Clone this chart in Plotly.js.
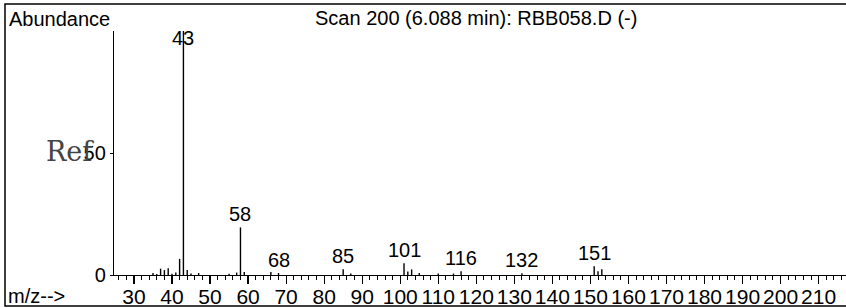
<!DOCTYPE html>
<html><head><meta charset="utf-8">
<script src="https://cdn.plot.ly/plotly-3.0.1.min.js"></script>
<style>html,body{margin:0;padding:0;background:#fff;}#chart{width:846px;height:308px;}</style>
</head><body><div id="chart"></div>
<script>
// Mass spectrum peaks (m/z, relative abundance %)
const mz        = [35, 36, 37, 38, 39, 40, 41, 42, 43, 44, 45, 47, 55, 57, 58, 59, 66, 68, 85, 87, 101, 102, 103, 105, 110, 114, 116, 132, 151, 152, 153];
const abundance = [0.8, 0.4, 2.6, 2.0, 2.8, 0.5, 1.0, 6.6, 100, 2.0, 0.6, 0.8, 0.5, 1.0, 19.5, 1.2, 1.2, 0.8, 2.4, 0.6, 4.8, 1.4, 2.3, 0.8, 0.6, 0.6, 1.5, 0.7, 3.6, 1.5, 2.4];
const labeledMz = [43, 58, 68, 85, 101, 116, 132, 151];
const yTickVals = [0, 50];
const yTickText = ['0', '50'];
const titleLeft = 'Abundance';
const titleMain = 'Scan 200 (6.088 min): RBB058.D (-)';
const xLabel = 'm/z-->';
const refText = 'Ref';

// plot area geometry (pixels)
const L = 114, T = 31, W = 732, H = 244;
const px = x => (x - L) / W;
const py = y => (T + H - y) / H;

const lx = [], ly = [];
mz.forEach((m, i) => { lx.push(m, m, null); ly.push(0, abundance[i], null); });

const sans = 'Liberation Sans, Arial, sans-serif';
const annotations = labeledMz.map(m => {
  const v = abundance[mz.indexOf(m)];
  const top = v >= 95;
  return {
    x: m, y: v, xref: 'x', yref: 'y', text: String(m), showarrow: false,
    xanchor: 'center', yanchor: top ? 'top' : 'bottom', yshift: top ? 6 : 0,
    font: {family: sans, size: 20, color: '#000'}
  };
});
annotations.push(
  {xref: 'paper', yref: 'paper', x: px(7), y: py(19), xanchor: 'left', yanchor: 'middle',
   text: titleLeft, showarrow: false, font: {family: sans, size: 20, color: '#000'}},
  {xref: 'paper', yref: 'paper', x: px(476), y: py(18), xanchor: 'center', yanchor: 'middle',
   text: titleMain, showarrow: false, font: {family: sans, size: 20, color: '#000'}},
  {xref: 'paper', yref: 'paper', x: px(6), y: py(296), xanchor: 'left', yanchor: 'middle',
   text: xLabel, showarrow: false, font: {family: sans, size: 20, color: '#000'}},
  {xref: 'paper', yref: 'paper', x: px(44), y: py(151), xanchor: 'left', yanchor: 'middle',
   text: refText, showarrow: false, font: {family: 'DejaVu Serif, Liberation Serif, serif', size: 27, color: '#444'}}
);

const data = [{
  x: lx, y: ly, type: 'scatter', mode: 'lines', connectgaps: false,
  line: {color: '#000', width: 1.4}, hoverinfo: 'skip', cliponaxis: false
}];

const layout = {
  width: 846, height: 308,
  margin: {l: L, r: 846 - L - W, t: T, b: 308 - T - H, pad: 0},
  paper_bgcolor: '#fff', plot_bgcolor: '#fff',
  showlegend: false,
  xaxis: {
    range: [24.75, 217.2], showgrid: false, zeroline: false,
    showline: true, linecolor: '#000', linewidth: 1.2,
    tickmode: 'linear', tick0: 0, dtick: 10,
    ticks: 'outside', ticklen: 8, tickwidth: 1.2, tickcolor: '#000',
    ticklabelstandoff: -5,
    minor: {tick0: 0, dtick: 2, ticks: 'outside', ticklen: 4, tickwidth: 1, tickcolor: '#000', showgrid: false},
    tickfont: {family: sans, size: 21, color: '#000'}, fixedrange: true
  },
  yaxis: {
    range: [0, 100], showgrid: false, zeroline: false,
    showline: true, linecolor: '#000', linewidth: 1.2,
    tickmode: 'array', tickvals: yTickVals, ticktext: yTickText,
    ticks: 'outside', ticklen: 3, tickwidth: 1, tickcolor: '#000',
    tickfont: {family: sans, size: 20, color: '#000'}, fixedrange: true
  },
  shapes: [{
    type: 'rect', xref: 'paper', yref: 'paper',
    x0: px(5), x1: px(848), y0: py(306), y1: py(4),
    line: {color: '#000', width: 1.5}, fillcolor: 'rgba(0,0,0,0)', layer: 'below'
  }],
  annotations: annotations
};

Plotly.newPlot('chart', data, layout, {staticPlot: true, displayModeBar: false});
</script>
</body></html>
